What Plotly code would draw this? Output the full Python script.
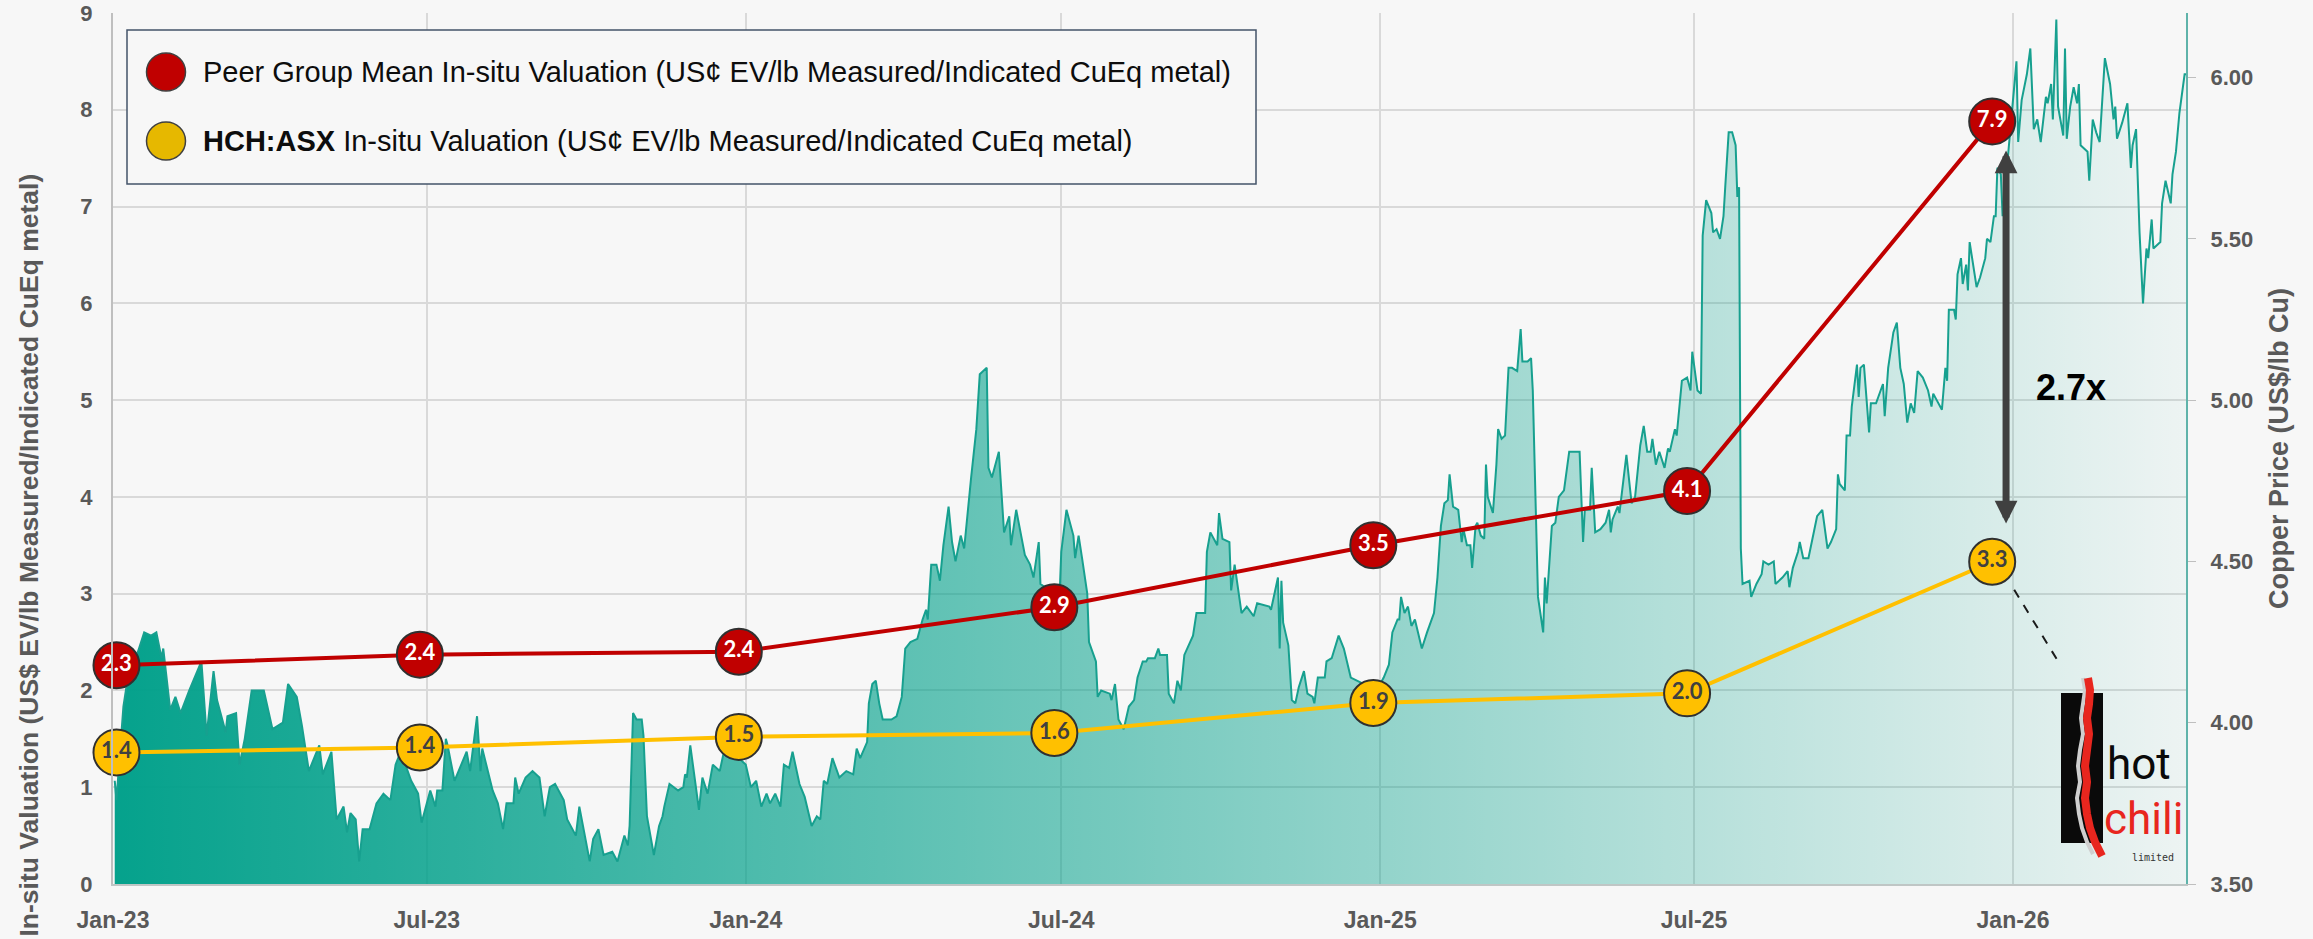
import pandas as pd
import plotly.graph_objects as go

BASE = pd.Timestamp("2023-01-01")

# ---------------- data ----------------
val_dates = ["2023-01-03", "2023-06-27", "2023-12-28", "2024-06-27",
             "2024-12-28", "2025-06-27", "2025-12-20"]
peer_vals = [2.26, 2.37, 2.40, 2.86, 3.50, 4.06, 7.88]
hch_vals = [1.36, 1.41, 1.52, 1.56, 1.87, 1.97, 3.33]

# copper price (US$/lb), day offsets from 2023-01-01
cu_day = [
    1, 2, 6, 8, 15, 18, 22, 25, 28, 29,
    33, 36, 39, 44, 51, 54, 58, 60, 65, 66,
    71, 73, 76, 80, 87, 92, 98, 101, 106, 109,
    113, 119, 121, 126, 129, 133, 135, 137, 140, 142,
    144, 148, 152, 156, 160, 163, 166, 172, 176, 178,
    183, 186, 187, 190, 192, 193, 197, 204, 206, 210,
    212, 213, 219, 222, 225, 227, 231, 232, 234, 238,
    242, 246, 249, 252, 255, 260, 262, 267, 269, 275,
    277, 280, 283, 288, 291, 295, 297,
    298, 300, 302, 305, 306, 308, 312, 315, 317, 318,
    321, 326, 329, 330, 331, 333, 335, 338, 340, 343,
    346, 350, 352, 357, 365, 368, 371, 373, 374, 377,
    379, 382, 385, 387, 390, 392, 396, 399, 403, 406,
    408, 410, 412, 415, 419, 423, 427, 429, 431, 435,
    436, 438, 440, 442, 444, 449, 452, 455, 457, 460,
    464, 467, 469, 470, 472, 475, 477, 479, 482, 484,
    486, 489, 491, 495, 498, 500, 504, 505, 507, 511,
    514, 517, 518, 521, 526, 529, 531, 534, 535, 546,
    547, 550, 554, 555, 557, 559, 562, 563, 567, 568,
    570, 575, 576, 578, 580, 583, 586, 589, 591, 594,
    596,
    597, 601, 603, 604, 608, 609, 612, 614, 616, 618,
    623, 625, 630, 631, 633, 637, 638, 640, 644, 645,
    647, 649, 651, 654, 658, 660, 667, 668, 670, 672,
    673, 674, 675, 678, 680, 682, 684, 687, 689, 692,
    693, 695, 699, 700, 703, 707, 710, 712, 714, 729,
    733, 736, 738, 741, 742, 743, 745, 747, 749, 751,
    755, 758, 762, 764, 766, 768, 770, 771, 773, 776,
    778, 779, 781, 783, 784, 786, 787, 789, 791, 792,
    793, 796, 798, 799, 801, 803, 805, 807, 810, 812,
    813, 816, 818, 819, 821, 822, 825, 826, 827, 829,
    830, 832, 834, 837, 839, 840, 842, 846, 848, 849,
    852, 853, 855, 858, 861, 863, 864, 865, 868, 869,
    873, 876, 878, 881, 883, 885, 887, 888, 890, 892,
    895, 897,
    898, 901, 902, 905, 908, 910, 911, 914, 916, 917,
    919, 922, 923, 925, 927, 929, 930, 932, 934, 936,
    937, 938, 939, 940, 944, 945, 948, 951, 952, 955,
    958, 959, 963, 966, 967, 969, 972, 973, 975, 978,
    983, 986, 987, 989, 991, 994, 995, 996, 999, 1000,
    1002, 1003, 1006, 1007, 1008, 1010, 1013, 1014, 1017, 1021,
    1022, 1024, 1027, 1029, 1031, 1033, 1035, 1037, 1039, 1041,
    1044, 1047, 1049, 1050, 1052, 1055, 1057, 1058, 1059, 1062,
    1063, 1064, 1066, 1067, 1069, 1070, 1071, 1073, 1075, 1077,
    1080, 1081, 1083, 1085, 1086, 1087, 1089, 1090, 1094, 1096,
    1098, 1099, 1101, 1104, 1106, 1108, 1110, 1112, 1115, 1116,
    1118, 1119, 1121, 1122, 1125, 1126, 1127, 1129, 1131, 1133,
    1134, 1135, 1139, 1140, 1142, 1144, 1146, 1149, 1152, 1154,
    1155, 1156, 1159, 1162, 1164, 1165, 1167, 1169, 1171, 1173,
    1174, 1176, 1177, 1181, 1182, 1184, 1187, 1188, 1190, 1192,
    1195, 1196,
]
cu_price = [
    3.82, 3.76, 4.05, 4.12, 4.23, 4.28, 4.27, 4.28, 4.20, 4.23,
    4.04, 4.08, 4.03, 4.10, 4.19, 3.96, 4.16, 4.07, 3.97, 4.02,
    4.03, 3.87, 3.95, 4.10, 4.10, 3.98, 4.00, 4.12, 4.08, 3.99,
    3.85, 3.93, 3.84, 3.91, 3.70, 3.74, 3.66, 3.72, 3.70, 3.57,
    3.67, 3.67, 3.75, 3.78, 3.76, 3.87, 3.91, 3.82, 3.78, 3.69,
    3.79, 3.74, 3.79, 3.79, 3.95, 3.93, 3.82, 3.91, 3.85, 4.02,
    3.85, 3.92, 3.79, 3.75, 3.67, 3.75, 3.75, 3.83, 3.78, 3.83,
    3.85, 3.83, 3.71, 3.80, 3.81, 3.76, 3.70, 3.65, 3.74, 3.57,
    3.64, 3.67, 3.59, 3.60, 3.57, 3.65, 3.62,
    3.68, 4.03, 4.01, 4.01, 3.96, 3.71, 3.59, 3.68, 3.71, 3.74,
    3.81, 3.79, 3.80, 3.84, 3.83, 3.93, 3.85, 3.73, 3.83, 3.78,
    3.87, 3.85, 3.90, 3.91, 3.87, 3.80, 3.82, 3.76, 3.74, 3.78,
    3.75, 3.78, 3.74, 3.87, 3.86, 3.91, 3.81, 3.77, 3.68, 3.71,
    3.70, 3.82, 3.81, 3.89, 3.83, 3.85, 3.84, 3.92, 3.89, 3.94,
    4.06, 4.12, 4.13, 4.06, 4.01, 4.01, 4.02, 4.08, 4.23, 4.25,
    4.26, 4.32, 4.35, 4.32, 4.49, 4.49, 4.44, 4.55, 4.67, 4.56,
    4.50, 4.58, 4.54, 4.76, 4.91, 5.08, 5.10, 4.79, 4.76, 4.84,
    4.59, 4.64, 4.55, 4.66, 4.52, 4.49, 4.45, 4.56, 4.43, 4.39,
    4.53, 4.66, 4.58, 4.51, 4.58, 4.51, 4.40, 4.25, 4.19, 4.08,
    4.10, 4.09, 4.07, 4.12, 4.01, 3.98, 4.05, 4.07, 4.14, 4.19,
    4.19,
    4.20, 4.20, 4.23, 4.21, 4.21, 4.09, 4.06, 4.13, 4.10, 4.21,
    4.27, 4.34, 4.34, 4.53, 4.59, 4.55, 4.65, 4.57, 4.56, 4.41,
    4.49, 4.41, 4.34, 4.36, 4.33, 4.37, 4.36, 4.35, 4.40, 4.45,
    4.23, 4.44, 4.31, 4.24, 4.07, 4.06, 4.11, 4.16, 4.09, 4.08,
    4.06, 4.14, 4.14, 4.19, 4.20, 4.27, 4.23, 4.18, 4.14, 4.10,
    4.14, 4.18, 4.28, 4.32, 4.32, 4.39, 4.34, 4.36, 4.30, 4.32,
    4.23, 4.28, 4.34, 4.45, 4.61, 4.68, 4.69, 4.77, 4.67, 4.66,
    4.56, 4.60, 4.55, 4.55, 4.48, 4.61, 4.62, 4.58, 4.57, 4.80,
    4.70, 4.65, 4.80, 4.91, 4.88, 4.89, 5.10, 5.10, 5.09, 5.22,
    5.12, 5.12, 5.13, 5.03, 4.62, 4.39, 4.28, 4.45, 4.37, 4.55,
    4.61, 4.62, 4.70, 4.72, 4.79, 4.84, 4.84, 4.84, 4.56, 4.66,
    4.66, 4.79, 4.59, 4.60, 4.62, 4.66, 4.59, 4.63, 4.67, 4.65,
    4.83, 4.68, 4.70, 4.86, 4.92, 4.84, 4.84, 4.88, 4.80, 4.84,
    4.79, 4.85,
    4.84, 4.91, 4.89, 5.06, 5.07, 5.03, 5.15, 5.03, 5.02, 5.51,
    5.62, 5.58, 5.52, 5.53, 5.50, 5.57, 5.66, 5.83, 5.83, 5.79,
    5.63, 5.66, 4.54, 4.43, 4.44, 4.39, 4.43, 4.46, 4.50, 4.49,
    4.50, 4.43, 4.45, 4.47, 4.42, 4.48, 4.53, 4.56, 4.51, 4.51,
    4.64, 4.66, 4.62, 4.54, 4.56, 4.60, 4.77, 4.74, 4.72, 4.89,
    4.89, 4.98, 5.11, 5.01, 5.10, 5.11, 4.90, 4.99, 4.99, 5.05,
    4.95, 5.10, 5.21, 5.24, 5.10, 5.05, 4.93, 4.99, 4.96, 5.09,
    5.07, 5.03, 4.98, 5.02, 5.00, 4.97, 5.10, 5.06, 5.28, 5.28,
    5.25, 5.39, 5.44, 5.36, 5.42, 5.34, 5.49, 5.42, 5.35, 5.38,
    5.44, 5.50, 5.49, 5.57, 5.57, 5.72, 5.70, 5.57, 5.80, 5.91,
    6.05, 5.80, 5.93, 6.01, 6.09, 5.84, 5.87, 5.80, 5.94, 5.92,
    5.98, 5.87, 6.18, 5.91, 5.82, 6.09, 5.81, 5.91, 5.97, 5.92,
    5.98, 5.79, 5.77, 5.68, 5.87, 5.83, 5.80, 6.06, 5.98, 5.87,
    5.91, 5.81, 5.86, 5.92, 5.72, 5.79, 5.84, 5.52, 5.30, 5.47,
    5.44, 5.56, 5.47, 5.49, 5.61, 5.68, 5.61, 5.70, 5.77, 5.89,
    6.01, 6.01,
]

left_ticks = [0, 1, 2, 3, 4, 5, 6, 7, 8, 9]
right_ticks = [3.5, 4.0, 4.5, 5.0, 5.5, 6.0]
x_end_day = 1195.8

peer_name = "Peer Group Mean In-situ Valuation (US¢ EV/lb Measured/Indicated CuEq metal)"
hch_name = "<b>HCH:ASX</b> In-situ Valuation (US¢ EV/lb Measured/Indicated CuEq metal)"
left_title = "In-situ Valuation (US$ EV/lb Measured/Indicated CuEq metal)"
right_title = "Copper Price (US$/lb Cu)"
multiple_text = "2.7x"

# ---------------- figure ----------------
W, H = 2313, 939
ML, MR, MT, MB = 113, 127, 13, 55
PW, PH = W - ML - MR, H - MT - MB


def px_x(px):
    return (px - ML) / PW


def px_y(py):
    return (H - MB - py) / PH


def nobreak(s):
    return s.replace(" ", "\u00a0")


GRAY = "#595959"
FAM = "Arial, Liberation Sans"
AX_FONT = dict(family=FAM, size=22, color=GRAY, weight="bold")

cu_x = BASE + pd.to_timedelta(cu_day, unit="D")

fig = go.Figure()
fig.add_trace(go.Scatter(
    x=cu_x, y=cu_price, yaxis="y", mode="lines",
    line=dict(color="#17a08f", width=2),
    fill="tozeroy",
    fillgradient=dict(type="horizontal",
                      colorscale=[[0, "rgba(0,160,138,0.98)"],
                                  [1, "rgba(0,160,138,0.04)"]]),
    showlegend=False, hoverinfo="skip"))

fig.add_trace(go.Scatter(
    x=val_dates, y=peer_vals, yaxis="y2", mode="lines+markers+text",
    line=dict(color="#c00000", width=4),
    marker=dict(size=46, color="#c00000", line=dict(color="#303030", width=2)),
    text=[f"{v:.1f}" for v in peer_vals], textposition="middle center",
    textfont=dict(family="Lato", size=22, color="white", weight="bold"),
    cliponaxis=False, showlegend=False, hoverinfo="skip"))

fig.add_trace(go.Scatter(
    x=val_dates, y=hch_vals, yaxis="y2", mode="lines+markers+text",
    line=dict(color="#ffc000", width=4),
    marker=dict(size=46, color="#ffc000", line=dict(color="#303030", width=2)),
    text=[f"{v:.1f}" for v in hch_vals], textposition="middle center",
    textfont=dict(family="Lato", size=22, color="#404040", weight="bold"),
    cliponaxis=False, showlegend=False, hoverinfo="skip"))

x_end = BASE + pd.Timedelta(days=x_end_day)

fig.update_layout(
    width=W, height=H,
    margin=dict(l=ML, r=MR, t=MT, b=MB, pad=0, autoexpand=False),
    paper_bgcolor="#f7f7f7", plot_bgcolor="#f7f7f7",
    showlegend=False,
    xaxis=dict(type="date", range=[BASE, x_end], tick0="2023-01-01", dtick="M6",
               tickformat="%b-%y", showgrid=True, gridcolor="#d9d9d9", gridwidth=1.5,
               showline=True, linecolor="#bfc6c5", linewidth=2, ticks="",
               tickfont=dict(family=FAM, size=23, color=GRAY, weight="bold"),
               ticklabelstandoff=14, zeroline=False, automargin=False),
    yaxis=dict(side="right", range=[3.5, 6.2], tickvals=right_ticks, tickformat=".2f",
               showgrid=False, zeroline=False, showline=True, linecolor="#5fb3aa",
               linewidth=2, ticks="outside", ticklen=8, tickcolor="#bfbfbf",
               tickfont=AX_FONT, ticklabelstandoff=10, automargin=False),
    yaxis2=dict(side="left", overlaying="y", range=[0, 9], tickvals=left_ticks,
                showgrid=True, gridcolor="#d9d9d9", gridwidth=1.5, zeroline=False,
                showline=True, linecolor="#bfbfbf", linewidth=2, ticks="",
                tickfont=AX_FONT, ticklabelstandoff=14, automargin=False),
)

shapes = []
# legend box
shapes.append(dict(type="rect", xref="paper", yref="paper",
                   x0=px_x(127), x1=px_x(1256), y0=px_y(184), y1=px_y(30),
                   fillcolor="#f7f7f7", line=dict(color="#44546a", width=1.5), layer="above"))
legend_rows = [(72, "#c00000"), (141, "#e6b800")]
for cy, col in legend_rows:
    shapes.append(dict(type="circle", xref="paper", yref="paper",
                       xsizemode="pixel", ysizemode="pixel",
                       xanchor=px_x(166), yanchor=px_y(cy),
                       x0=-19.5, x1=19.5, y0=-19, y1=19,
                       fillcolor=col, line=dict(color="#404040", width=1.5), layer="above"))

# dashed connector from HCH last point to logo
shapes.append(dict(type="line", xref="x", yref="y2", xsizemode="pixel", ysizemode="pixel",
                   xanchor=val_dates[-1], yanchor=hch_vals[-1],
                   x0=22, y0=-28, x1=68, y1=-103,
                   line=dict(color="#1a1a1a", width=2, dash="dash"), layer="above"))

# logo (approximation)
shapes.append(dict(type="rect", xref="paper", yref="paper", xsizemode="pixel", ysizemode="pixel",
                   xanchor=1, yanchor=0, x0=-125, x1=-83, y0=41, y1=191,
                   fillcolor="#0a0a0a", line=dict(width=0), layer="above"))
outline_path = ("M-103,206 L-101,194 L-103,180 L-105,166 L-103,150 L-106,134 "
                "L-108,118 L-106,102 L-109,86 L-107,70 L-104,56 L-99,42 L-93,30")
chili_path = ("M-98,206 L-96,194 L-97,180 L-99,166 L-97,150 L-99,134 "
              "L-101,118 L-99,102 L-101,86 L-99,70 L-96,56 L-91,42 L-84,28")
shapes.append(dict(type="path", xref="paper", yref="paper", xsizemode="pixel", ysizemode="pixel",
                   xanchor=1, yanchor=0, path=outline_path,
                   line=dict(color="#cfcfcf", width=4), layer="above"))
shapes.append(dict(type="path", xref="paper", yref="paper", xsizemode="pixel", ysizemode="pixel",
                   xanchor=1, yanchor=0, path=chili_path,
                   line=dict(color="#e8261e", width=8), layer="above"))
fig.update_layout(shapes=shapes)

arrow_x = pd.Timestamp(val_dates[-1]) + pd.Timedelta(days=8)
ann = []
# legend texts
for (cy, _), txt in zip(legend_rows, [peer_name, hch_name]):
    ann.append(dict(xref="paper", yref="paper", x=px_x(201), y=px_y(cy), text=txt,
                    showarrow=False, xanchor="left", yanchor="middle",
                    font=dict(family=FAM, size=29, color="#0d0d0d")))
# left axis title (single line, reads bottom to top, ends near the top)
ann.append(dict(xref="paper", yref="paper", x=px_x(28), y=px_y(172), text=nobreak(left_title),
                textangle=-90, showarrow=False, xanchor="center", yanchor="top",
                font=dict(family=FAM, size=26.5, color=GRAY, weight="bold")))
# right axis title
ann.append(dict(xref="paper", yref="paper", x=px_x(2279), y=px_y(449), text=nobreak(right_title),
                textangle=-90, showarrow=False, xanchor="center", yanchor="middle",
                font=dict(family=FAM, size=27, color=GRAY, weight="bold")))
# double arrow between last points
ann.append(dict(x=arrow_x, y=peer_vals[-1] - 0.30, xref="x", yref="y2",
                ax=arrow_x, ay=hch_vals[-1] + 0.38, axref="x", ayref="y2",
                text="", showarrow=True, arrowside="end+start",
                arrowhead=2, startarrowhead=2, arrowsize=0.65, startarrowsize=0.65,
                arrowwidth=7, arrowcolor="#404040", standoff=0, startstandoff=0))
ann.append(dict(xref="paper", yref="paper", x=px_x(2071), y=px_y(388), text=f"<b>{multiple_text}</b>",
                showarrow=False, xanchor="center", yanchor="middle",
                font=dict(family=FAM, size=36, color="#000000")))
# logo texts
logo_font = "Liberation Sans Narrow, Roboto, Lato"
ann.append(dict(xref="paper", yref="paper", x=px_x(2139), y=px_y(764), text="hot",
                showarrow=False, xanchor="center", yanchor="middle",
                font=dict(family=logo_font, size=44, color="#0a0a0a")))
ann.append(dict(xref="paper", yref="paper", x=px_x(2143), y=px_y(819), text="chili",
                showarrow=False, xanchor="center", yanchor="middle",
                font=dict(family=logo_font, size=44, color="#e8261e")))
ann.append(dict(xref="paper", yref="paper", x=px_x(2153), y=px_y(857), text="limited",
                showarrow=False, xanchor="center", yanchor="middle",
                font=dict(family="DejaVu Sans Mono, monospace", size=10, color="#333333")))
fig.update_layout(annotations=ann)

fig.write_html("out.html", config={"displayModeBar": False},
               post_script="document.body.style.margin='0';document.body.style.overflow='hidden';")
